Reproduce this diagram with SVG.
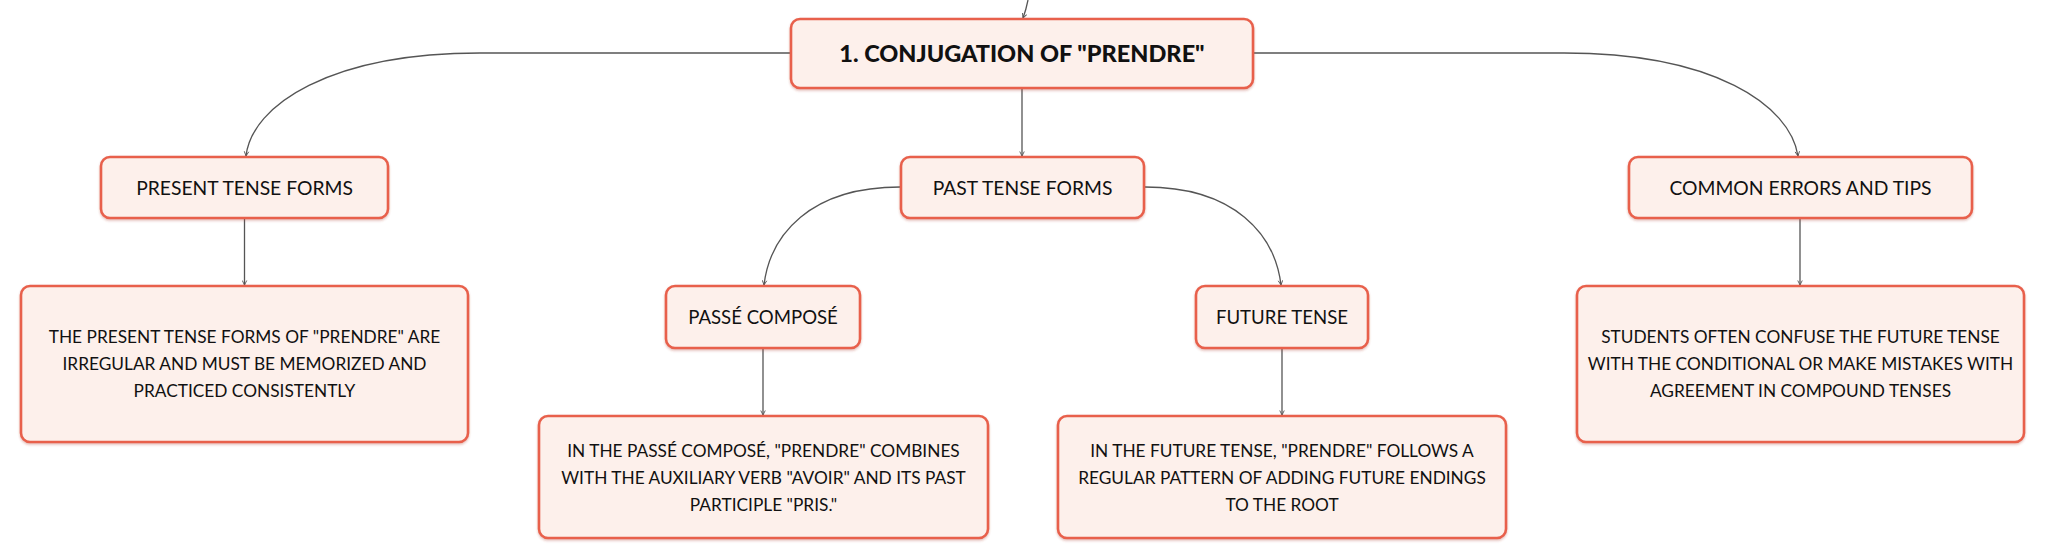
<svg xmlns="http://www.w3.org/2000/svg" width="2046" height="559" viewBox="0 0 2046 559">
<defs>
<marker id="arr" viewBox="0 0 8 8" refX="7" refY="4" markerWidth="6" markerHeight="6" orient="auto" markerUnits="userSpaceOnUse">
<path d="M1,1 L7,4 L1,7" fill="none" stroke="#555" stroke-width="1.2"/>
</marker>
<filter id="sh" x="-5%" y="-5%" width="110%" height="120%">
<feDropShadow dx="0" dy="1.5" stdDeviation="1" flood-color="#b04030" flood-opacity="0.35"/>
</filter>
</defs>
<style>
.box{fill:#fdf0eb;stroke:#e8604c;stroke-width:2.6;filter:url(#sh)}
.t{font-family:Lato,"Open Sans","Liberation Sans",sans-serif;fill:#111;text-anchor:middle}
.lbl{font-size:19.3px}
.sub{font-size:18.6px}
.body{font-size:17.3px}
.root{font-size:23.5px;font-weight:900}
.c{fill:none;stroke:#555;stroke-width:1.3}
</style>
<rect width="2046" height="559" fill="#ffffff"/>
<g id="connectors">
<path class="c" d="M1028,0 Q1026,10 1023,18" marker-end="url(#arr)"/>
<path class="c" d="M791,53 L480,53 C330,53 252,105 246,156" marker-end="url(#arr)"/>
<path class="c" d="M1253,53 L1564,53 C1714,53 1790,105 1798,156" marker-end="url(#arr)"/>
<path class="c" d="M1022,88 L1022,156" marker-end="url(#arr)"/>
<path class="c" d="M900,187 C810,187 770,235 764,285" marker-end="url(#arr)"/>
<path class="c" d="M1145,187 C1235,187 1275,235 1281,285" marker-end="url(#arr)"/>
<path class="c" d="M244.5,218 L244.5,285" marker-end="url(#arr)"/>
<path class="c" d="M1800,218 L1800,285" marker-end="url(#arr)"/>
<path class="c" d="M763,348 L763,415" marker-end="url(#arr)"/>
<path class="c" d="M1282,348 L1282,415" marker-end="url(#arr)"/>
</g>
<g id="root">
<rect class="box" x="791" y="19" width="462" height="69" rx="9"/>
<text class="t root" x="1022" y="62">1. CONJUGATION OF "PRENDRE"</text>
</g>
<g id="present">
<rect class="box" x="101" y="157" width="287" height="61" rx="9"/>
<text class="t lbl" x="244.5" y="194.5">PRESENT TENSE FORMS</text>
</g>
<g id="past">
<rect class="box" x="901" y="157" width="243" height="61" rx="9"/>
<text class="t lbl" x="1022.5" y="194.5">PAST TENSE FORMS</text>
</g>
<g id="errors">
<rect class="box" x="1629" y="157" width="343" height="61" rx="9"/>
<text class="t lbl" x="1800.5" y="194.5">COMMON ERRORS AND TIPS</text>
</g>
<g id="present-desc">
<rect class="box" x="21" y="286" width="447" height="156" rx="9"/>
<text class="t body" x="244.5" y="343">THE PRESENT TENSE FORMS OF "PRENDRE" ARE</text>
<text class="t body" x="244.5" y="370">IRREGULAR AND MUST BE MEMORIZED AND</text>
<text class="t body" x="244.5" y="397">PRACTICED CONSISTENTLY</text>
</g>
<g id="passe-compose">
<rect class="box" x="666" y="286" width="194" height="62" rx="9"/>
<text class="t sub" x="763" y="323.5">PASSÉ COMPOSÉ</text>
</g>
<g id="passe-desc">
<rect class="box" x="539" y="416" width="449" height="122" rx="9"/>
<text class="t body" x="763.5" y="457">IN THE PASSÉ COMPOSÉ, "PRENDRE" COMBINES</text>
<text class="t body" x="763.5" y="484">WITH THE AUXILIARY VERB "AVOIR" AND ITS PAST</text>
<text class="t body" x="763.5" y="511">PARTICIPLE "PRIS."</text>
</g>
<g id="future">
<rect class="box" x="1196" y="286" width="172" height="62" rx="9"/>
<text class="t sub" x="1282" y="323.5">FUTURE TENSE</text>
</g>
<g id="future-desc">
<rect class="box" x="1058" y="416" width="448" height="122" rx="9"/>
<text class="t body" x="1282" y="457">IN THE FUTURE TENSE, "PRENDRE" FOLLOWS A</text>
<text class="t body" x="1282" y="484">REGULAR PATTERN OF ADDING FUTURE ENDINGS</text>
<text class="t body" x="1282" y="511">TO THE ROOT</text>
</g>
<g id="errors-desc">
<rect class="box" x="1577" y="286" width="447" height="156" rx="9"/>
<text class="t body" x="1800.5" y="343">STUDENTS OFTEN CONFUSE THE FUTURE TENSE</text>
<text class="t body" x="1800.5" y="370">WITH THE CONDITIONAL OR MAKE MISTAKES WITH</text>
<text class="t body" x="1800.5" y="397">AGREEMENT IN COMPOUND TENSES</text>
</g>
</svg>
